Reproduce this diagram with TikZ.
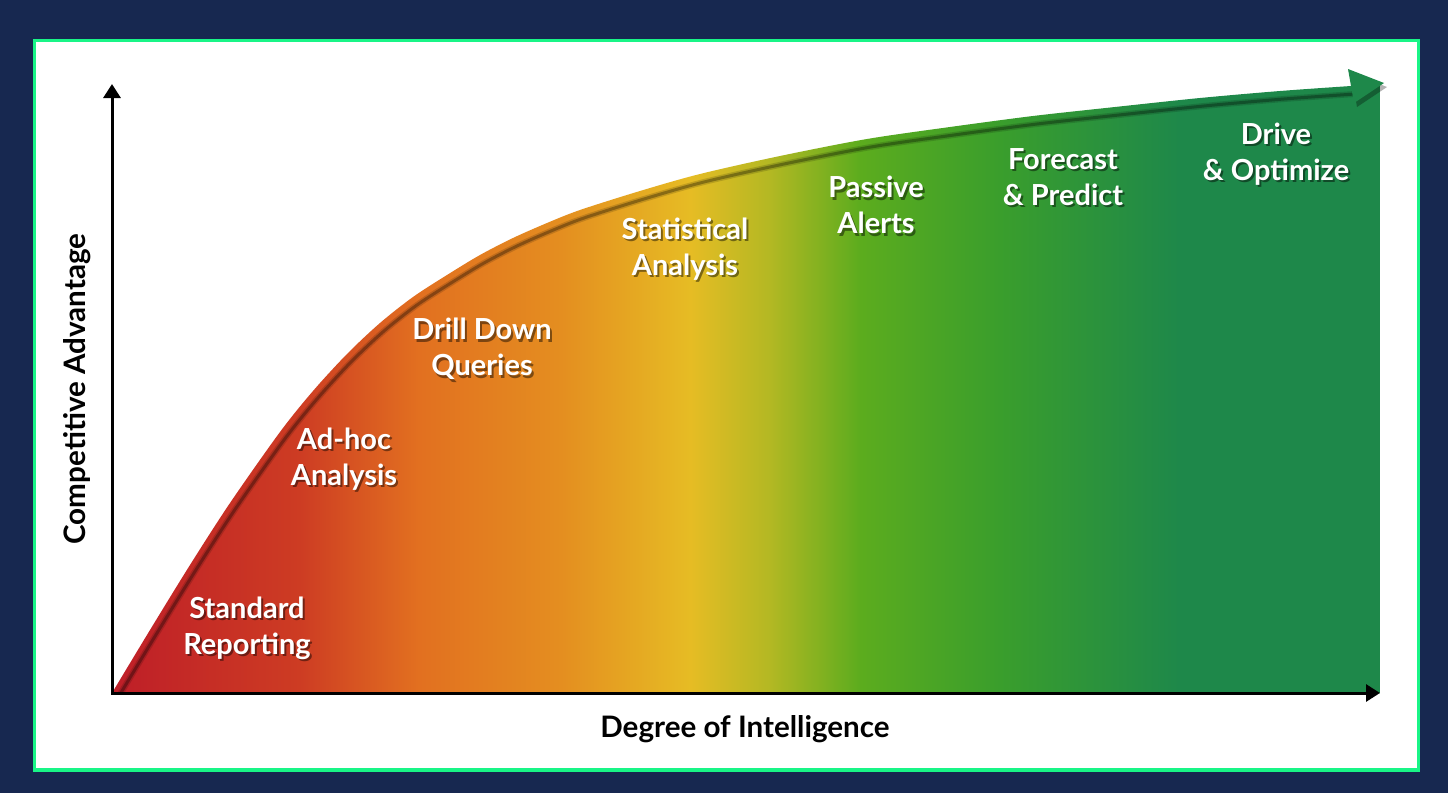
\documentclass[tikz,border=0pt]{standalone}
\usepackage{fontspec}
\setmainfont{Lato}
\usetikzlibrary{arrows.meta}

\definecolor{navy}{RGB}{23,40,80}
\definecolor{mint}{RGB}{25,245,135}
\definecolor{sRed}{RGB}{190,30,40}
\definecolor{sRust}{RGB}{205,60,35}
\definecolor{sOrange}{RGB}{226,112,32}
\definecolor{sAmber}{RGB}{228,142,32}
\definecolor{sYellow}{RGB}{230,188,36}
\definecolor{sOlive}{RGB}{180,184,35}
\definecolor{sLime}{RGB}{92,172,30}
\definecolor{sGreen}{RGB}{58,158,44}
\definecolor{sDark}{RGB}{30,136,74}

\pgfdeclarehorizontalshading{stageshade}{100bp}{color(0bp)=(sRed); color(25bp)=(sRed);
  color(32.4bp)=(sRust); color(37.1bp)=(sOrange); color(42.7bp)=(sAmber);
  color(47.8bp)=(sYellow); color(50.9bp)=(sOlive); color(54.5bp)=(sLime);
  color(60bp)=(sGreen); color(67.1bp)=(sDark); color(75bp)=(sDark); color(100bp)=(sDark)}

% top edge of the curve
\newcommand{\advpath}{plot[smooth, tension=0.5] coordinates {(112,693) (150,630) (190,565)
  (230,503) (280,432) (313,391) (347,354) (380,323) (413,297) (447,275) (480,255)
  (513,238) (547,223) (580,210) (640,191) (700,174) (780,156) (867,139) (950,127)
  (1033,116) (1115,107) (1200,98) (1280,91) (1351,86)}}

\begin{document}
\begin{tikzpicture}[x=0.5pt, y=-0.5pt,
    stage/.style = {text=white, font=\fontsize{14.5}{18}\selectfont\bfseries, align=center},
    ghost/.style = {stage, text=black, opacity=.45, xshift=1pt, yshift=-1.3pt},
    axislabel/.style = {font=\fontsize{14.8}{18}\selectfont\bfseries}]

    % frame
    \fill[navy] (0,0) rectangle (1448,793);
    \draw[mint, line width=1.6pt, fill=white] (34.5,40.5) rectangle (1418.5,770);

    % area under the curve
    \begin{scope}
        \clip \advpath -- (1380,86) -- (1380,693) -- cycle;
        \shade[shading=stageshade] (112,60) rectangle (1380,693);
        \draw[black, opacity=.15, line width=3pt, shift={(4,8)}] \advpath;
        \draw[black, opacity=.3, line width=1.5pt, shift={(4,8)}] \advpath;
    \end{scope}
    \fill[black, opacity=.3] (1387,87) -- (1351,73) -- (1357,107) -- cycle;
    \fill[sDark] (1384,83) -- (1348,69) -- (1354,103) -- cycle;

    % axes
    \coordinate (O) at (112,693);
    \coordinate (ytip) at (112,84);
    \coordinate (xtip) at (1380,693);
    \draw[line width=1.5pt, {Triangle[length=7pt, width=8.5pt]}-{Triangle[length=7pt, width=8.5pt]}]
        (ytip) -- (O) -- (xtip);

    \node[axislabel] (xlab) at (745,729) {Degree of Intelligence};
    \node[axislabel, rotate=90] (ylab) at (77,389) {Competitive Advantage};

    % stages
    \foreach \nm/\px/\py/\txt in {std/247/628/{Standard\\Reporting},
        adhoc/344/459/{Ad-hoc\\Analysis}, drill/482/349/{Drill Down\\Queries},
        stat/685/249/{Statistical\\Analysis}, alerts/876/205/{Passive\\Alerts},
        fcast/1063/177/{Forecast\\\& Predict}, drive/1276/154/{Drive\\\& Optimize}} {
        \node[ghost] at (\px,\py) {\txt};
        \node[stage] (\nm) at (\px,\py) {\txt};
    }
\end{tikzpicture}
\end{document}
